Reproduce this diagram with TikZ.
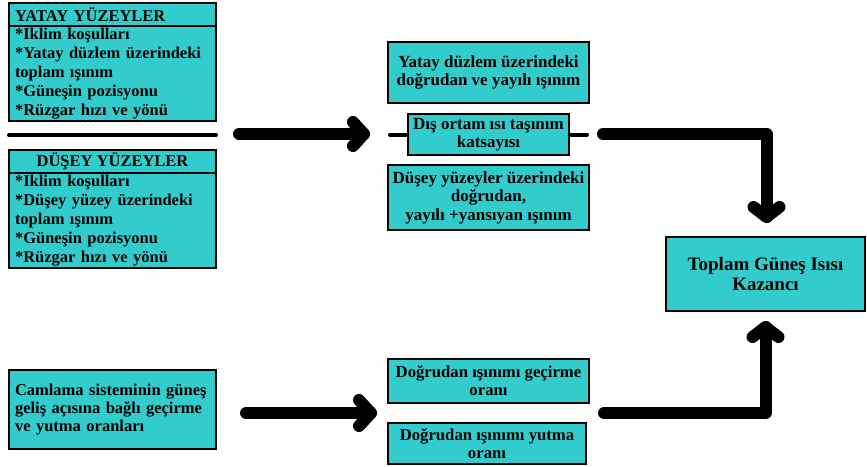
\documentclass[tikz,border=0pt]{standalone}
\usepackage{fontspec}
\setmainfont{Liberation Serif}
\usetikzlibrary{calc}
\definecolor{tealbox}{RGB}{51,204,204}
\begin{document}
\begin{tikzpicture}[x=1pt,y=-1pt,
  box/.style={draw=black, line width=1.6pt, fill=tealbox, inner sep=0pt,
    font=\fontsize{17}{18.5}\selectfont\bfseries, align=center},
  lbox/.style={box, align=left, inner xsep=6pt, text width=195pt,
    minimum width=207pt, font=\fontsize{16.5}{19}\selectfont\bfseries},
  fat/.style={line width=12pt, line cap=round, line join=round},
  slim/.style={line width=4pt, line cap=round}]
\useasboundingbox (0,0) rectangle (867,466);

% left column
\node[lbox, minimum height=23pt] (yh) at (112.5,14.5) {YATAY YÜZEYLER};
\node[lbox, minimum height=95pt] (yb) at (112.5,73.5)
  {{*}Iklim koşulları\\{*}Yatay düzlem üzerindeki\\toplam ışınım\\{*}Güneşin pozisyonu\\{*}Rüzgar hızı ve yönü};
\coordinate (s1) at (9,135);
\coordinate (s2) at (216,135);
\draw[slim] (s1) -- (s2);
\node[box, minimum width=207pt, minimum height=23pt, font=\fontsize{16.5}{19}\selectfont\bfseries] (dh) at (112.5,161.5) {DÜŞEY YÜZEYLER};
\node[lbox, minimum height=95pt] (db) at (112.5,220.5)
  {{*}Iklim koşulları\\{*}Düşey yüzey üzerindeki\\toplam ışınım\\{*}Güneşin pozisyonu\\{*}Rüzgar hızı ve yönü};
\node[lbox, minimum height=79pt, font=\fontsize{16.5}{18.3}\selectfont\bfseries] (cam) at (112.5,409.5)
  {Camlama sisteminin güneş\\geliş açısına bağlı geçirme\\ve yutma oranları};

% middle column
\node[box, minimum width=201pt, minimum height=61pt] (yd) at (488.5,72.5)
  {Yatay düzlem üzerindeki\\doğrudan ve yayılı ışınım};
\node[box, minimum width=161pt, minimum height=41pt, font=\fontsize{17}{18}\selectfont\bfseries] (dis) at (488.5,134.5)
  {Dış ortam ısı taşınım\\katsayısı};
\node[box, minimum width=201pt, minimum height=65pt] (dy) at (488.5,197.5)
  {Düşey yüzeyler üzerindeki\\doğrudan,\\yayılı +yansıyan ışınım};
\node[box, minimum width=201pt, minimum height=44pt, font=\fontsize{16.7}{18}\selectfont\bfseries] (gec) at (488.5,381)
  {Doğrudan ışınımı geçirme\\oranı};
\node[box, minimum width=198pt, minimum height=41pt, font=\fontsize{16.7}{18}\selectfont\bfseries] (yut) at (487,443.5)
  {Doğrudan ışınımı yutma\\oranı};

% result
\node[box, minimum width=199pt, minimum height=74pt, font=\fontsize{19}{20.5}\selectfont\bfseries] (top) at (765.5,274)
  {Toplam Güneş Isısı\\Kazancı};

% short lines at Dis box
\coordinate (dl) at (390,134.5);
\coordinate (dr) at (587,134.5);
\draw[slim] (dl) -- (dis.west);
\draw[slim] (dis.east) -- (dr);

% arrow 1
\coordinate (a1s) at (239,134);
\coordinate (a1e) at (364,134);
\draw[fat] (a1s) -- (a1e);
\draw[fat] (a1e) ++(-11,-12) -- (a1e) -- ++(-11,12);

% arrow 2
\coordinate (a2s) at (603,134);
\coordinate (a2e) at (766.5,217);
\draw[fat] (a2s) -| (a2e);
\draw[fat] (a2e) ++(-13,-10) -- (a2e) -- ++(13,-10);

% arrow 3
\coordinate (a3s) at (246,413);
\coordinate (a3e) at (371,413);
\draw[fat] (a3s) -- (a3e);
\draw[fat] (a3e) ++(-12,-13) -- (a3e) -- ++(-12,13);

% arrow 4
\coordinate (a4s) at (604,413);
\coordinate (a4e) at (765.5,327);
\draw[fat] (a4s) -| (a4e);
\draw[fat] (a4e) ++(-13,10) -- (a4e) -- ++(13,10);
\end{tikzpicture}
\end{document}
